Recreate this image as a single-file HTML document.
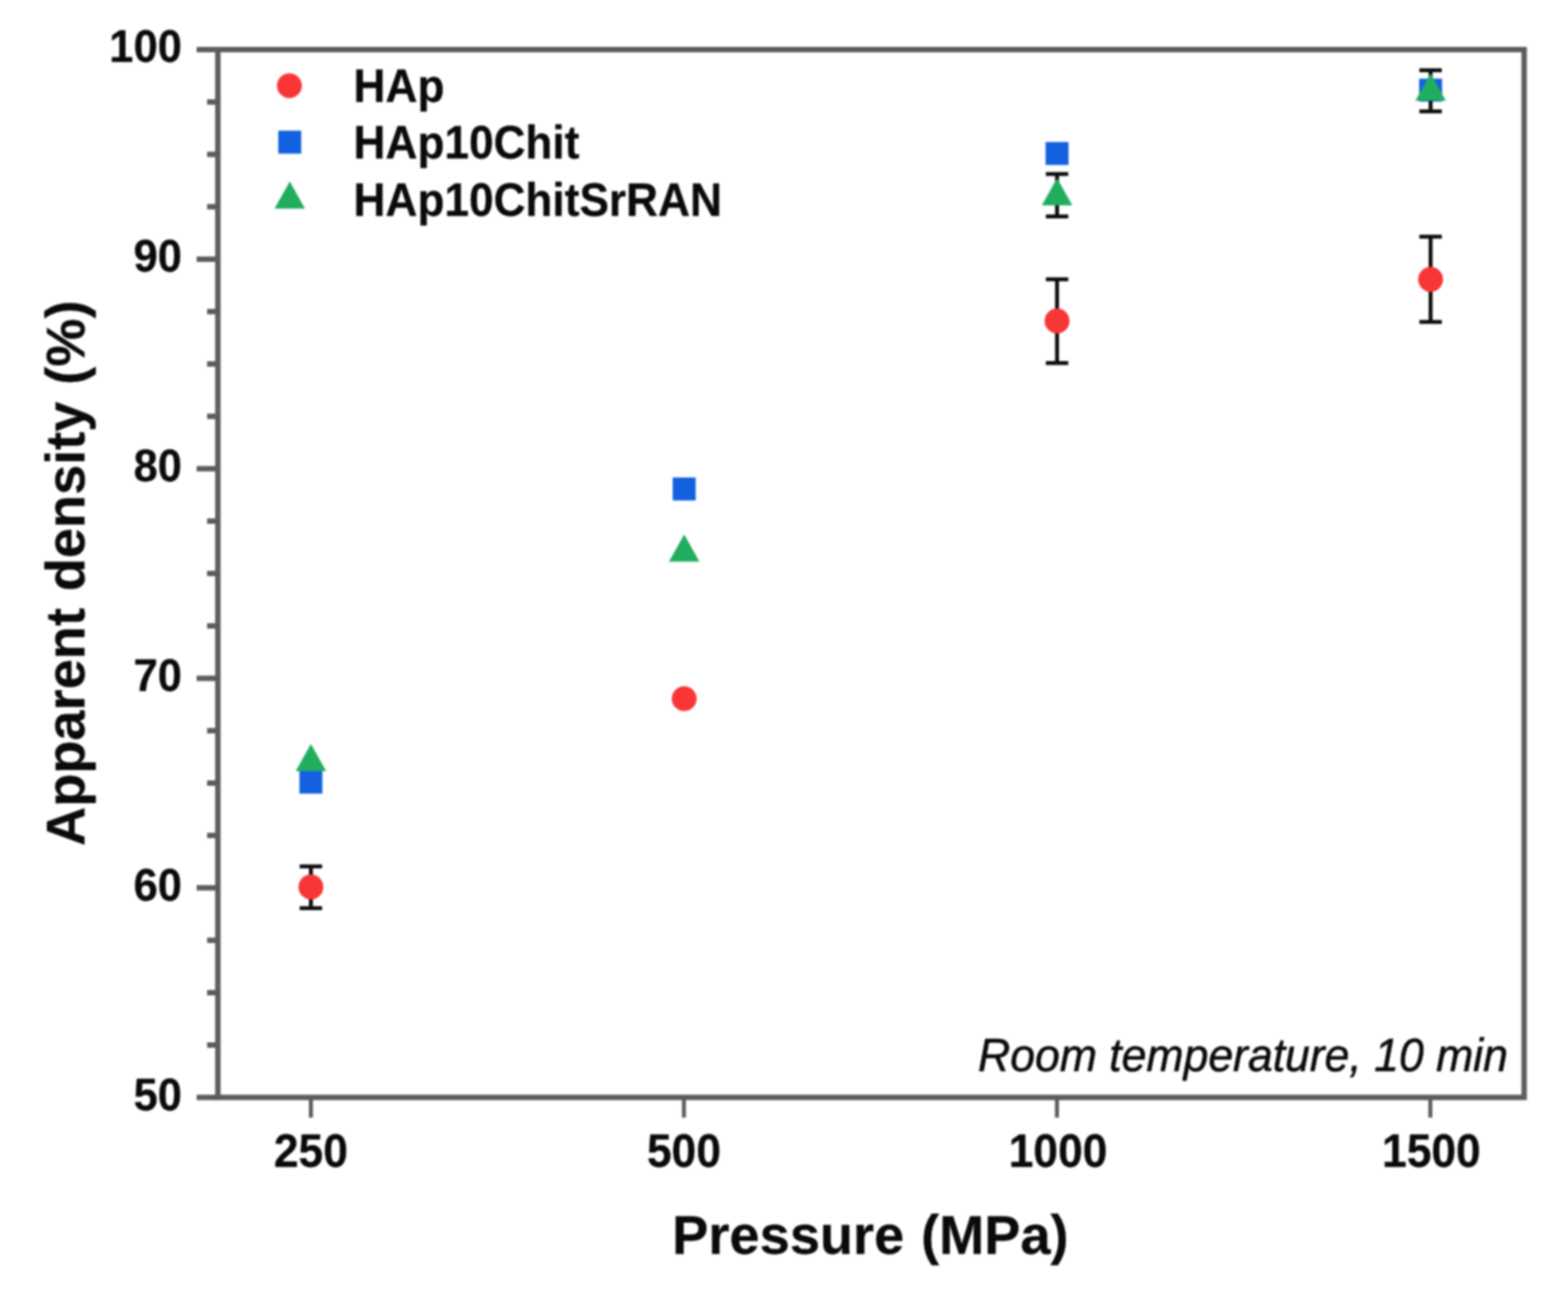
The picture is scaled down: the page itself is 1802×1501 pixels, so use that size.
<!DOCTYPE html>
<html lang="en">
<head>
<meta charset="utf-8">
<title>Apparent density vs pressure</title>
<style>
html,body{margin:0;padding:0;background:#ffffff;}
body{width:1802px;height:1501px;overflow:hidden;}
svg{display:block;filter:blur(1.2px);}
text{font-family:"Liberation Sans",sans-serif;fill:#0a0a0a;}
.b{font-weight:bold;stroke:#0a0a0a;stroke-width:0.3px;stroke-linejoin:round;}
.tick{font-size:51px;}
.ytick{font-size:50px;}
.leg{font-size:50.8px;}
.axl{font-size:62.3px;word-spacing:2px;}
.note{font-size:51.2px;font-style:italic;fill:#141414;stroke:#141414;stroke-width:0.7px;}
</style>
</head>
<body>
<svg width="1802" height="1501" viewBox="0 0 1802 1501">
<rect x="-10" y="-10" width="1822" height="1521" fill="#ffffff"/>
<g stroke="#5c5c5c" stroke-width="6.2" fill="none" stroke-linecap="butt">
<rect x="250.4" y="57.0" width="1501.1999999999998" height="1204.3"/>
<line x1="226" y1="1261.3" x2="250.4" y2="1261.3"/>
<line x1="238" y1="1201.1" x2="250.4" y2="1201.1"/>
<line x1="238" y1="1140.9" x2="250.4" y2="1140.9"/>
<line x1="238" y1="1080.7" x2="250.4" y2="1080.7"/>
<line x1="226" y1="1020.4" x2="250.4" y2="1020.4"/>
<line x1="238" y1="960.2" x2="250.4" y2="960.2"/>
<line x1="238" y1="900.0" x2="250.4" y2="900.0"/>
<line x1="238" y1="839.8" x2="250.4" y2="839.8"/>
<line x1="226" y1="779.6" x2="250.4" y2="779.6"/>
<line x1="238" y1="719.4" x2="250.4" y2="719.4"/>
<line x1="238" y1="659.1" x2="250.4" y2="659.1"/>
<line x1="238" y1="598.9" x2="250.4" y2="598.9"/>
<line x1="226" y1="538.7" x2="250.4" y2="538.7"/>
<line x1="238" y1="478.5" x2="250.4" y2="478.5"/>
<line x1="238" y1="418.3" x2="250.4" y2="418.3"/>
<line x1="238" y1="358.1" x2="250.4" y2="358.1"/>
<line x1="226" y1="297.9" x2="250.4" y2="297.9"/>
<line x1="238" y1="237.6" x2="250.4" y2="237.6"/>
<line x1="238" y1="177.4" x2="250.4" y2="177.4"/>
<line x1="238" y1="117.2" x2="250.4" y2="117.2"/>
<line x1="226" y1="57.0" x2="250.4" y2="57.0"/>
<line x1="357.3" y1="1261.3" x2="357.3" y2="1284.5" stroke-width="4.6"/>
<line x1="786.0" y1="1261.3" x2="786.0" y2="1284.5" stroke-width="4.6"/>
<line x1="1214.7" y1="1261.3" x2="1214.7" y2="1284.5" stroke-width="4.6"/>
<line x1="1643.8" y1="1261.3" x2="1643.8" y2="1284.5" stroke-width="4.6"/>
</g>
<g class="b ytick">
<text text-anchor="end" transform="translate(209.0 1275.7) scale(1 1.03)">50</text>
<text text-anchor="end" transform="translate(209.0 1034.8) scale(1 1.03)">60</text>
<text text-anchor="end" transform="translate(209.0 794.0) scale(1 1.03)">70</text>
<text text-anchor="end" transform="translate(209.0 553.1) scale(1 1.03)">80</text>
<text text-anchor="end" transform="translate(209.0 312.3) scale(1 1.03)">90</text>
<text text-anchor="end" transform="translate(209.0 71.4) scale(1 1.03)">100</text>
</g>
<g class="b tick">
<text text-anchor="middle" transform="translate(357.3 1341.0) scale(1 1.04)">250</text>
<text text-anchor="middle" transform="translate(786.0 1341.0) scale(1 1.04)">500</text>
<text text-anchor="middle" transform="translate(1215.9 1341.0) scale(1 1.04)">1000</text>
<text text-anchor="middle" transform="translate(1645.0 1341.0) scale(1 1.04)">1500</text>
</g>
<g class="b axl">
<text text-anchor="middle" transform="translate(1000.3 1441.4) scale(1 1.02)">Pressure (MPa)</text>
<text text-anchor="middle" transform="translate(97.2 658.8) rotate(-90) scale(1 1.005)">Apparent density (%)</text>
</g>
<g class="note">
<text text-anchor="end" transform="translate(1732.9 1231.0) scale(1 1.04)">Room temperature, 10 min</text>
</g>
<g>
<path d="M357.3 995.8V1043.8M344.4 995.8H370.2M344.4 1043.8H370.2" stroke="#0c0c0c" stroke-width="4.5" fill="none"/>
<circle cx="357.3" cy="1019.4" r="14.3" fill="#f83636"/>
<circle cx="786.3" cy="803.0" r="14.3" fill="#f83636"/>
<path d="M1214.8 321.0V417.2M1201.9 321.0H1227.7M1201.9 417.2H1227.7" stroke="#0c0c0c" stroke-width="4.5" fill="none"/>
<circle cx="1214.8" cy="368.9" r="14.3" fill="#f83636"/>
<path d="M1644.1 272.1V369.9M1631.2 272.1H1657.0M1631.2 369.9H1657.0" stroke="#0c0c0c" stroke-width="4.5" fill="none"/>
<circle cx="1644.1" cy="321.1" r="14.3" fill="#f83636"/>
<rect x="344.1" y="885.7" width="26.4" height="26.4" fill="#1361e0"/>
<rect x="773.1" y="548.8" width="26.4" height="26.4" fill="#1361e0"/>
<rect x="1201.6" y="163.2" width="26.4" height="26.4" fill="#1361e0"/>
<rect x="1630.9" y="90.4" width="26.4" height="26.4" fill="#1361e0"/>
<polygon points="357.3,854.9 374.8,886.2 339.8,886.2" fill="#21ad5e"/>
<polygon points="786.3,614.3 803.8,645.6 768.8,645.6" fill="#21ad5e"/>
<path d="M1214.8 200.0V248.7M1201.9 200.0H1227.7M1201.9 248.7H1227.7" stroke="#0c0c0c" stroke-width="4.5" fill="none"/>
<polygon points="1214.8,204.8 1232.3,236.1 1197.3,236.1" fill="#21ad5e"/>
<path d="M1644.1 80.7V128.0M1631.2 80.7H1657.0M1631.2 128.0H1657.0" stroke="#0c0c0c" stroke-width="4.5" fill="none"/>
<polygon points="1644.1,84.4 1661.6,115.7 1626.6,115.7" fill="#21ad5e"/>
</g>
<g>
<circle cx="332.6" cy="98.5" r="14.3" fill="#f83636"/>
<rect x="319.8" y="150.2" width="26.4" height="26.4" fill="#1361e0"/>
<polygon points="333,208.5 350.5,239.8 315.5,239.8" fill="#21ad5e"/>
</g>
<g class="b leg">
<text transform="translate(406.3 117.1) scale(1 1.04)">HAp</text>
<text transform="translate(406.3 182.3) scale(1 1.04)">HAp10Chit</text>
<text transform="translate(406.3 247.5) scale(1 1.04)">HAp10ChitSrRAN</text>
</g>
</svg>
</body>
</html>
